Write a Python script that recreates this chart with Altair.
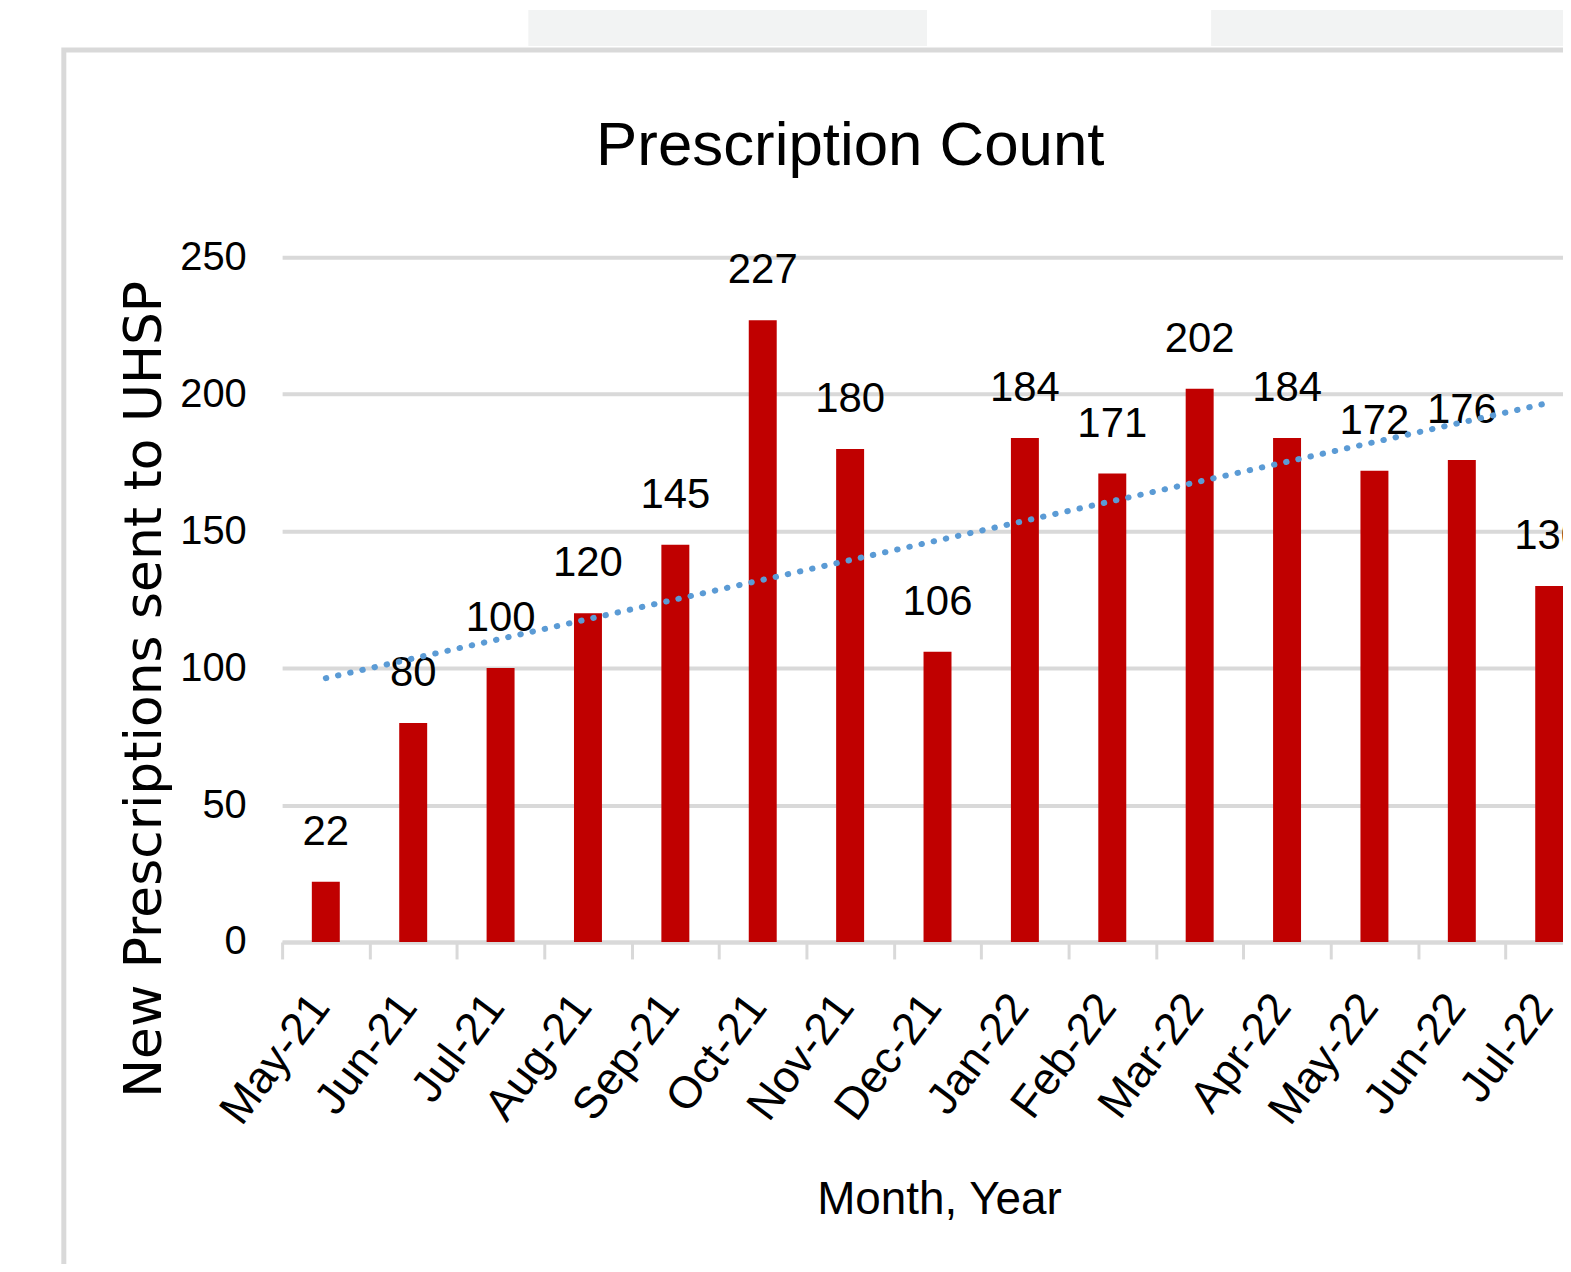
import altair as alt
import pandas as pd

# ---- data ----
months = ["May-21", "Jun-21", "Jul-21", "Aug-21", "Sep-21", "Oct-21", "Nov-21",
          "Dec-21", "Jan-22", "Feb-22", "Mar-22", "Apr-22", "May-22", "Jun-22", "Jul-22"]
counts = [22, 80, 100, 120, 145, 227, 180, 106, 184, 171, 202, 184, 172, 176, 130]
y_ticks = [0, 50, 100, 150, 200, 250]
chart_title = "Prescription Count"

df = pd.DataFrame({"month": months, "count": counts, "idx": list(range(len(months)))})
one = pd.DataFrame({"k": [0]})

# ---- layout ----
W = 1285          # visible plot width (reference is cropped on the right)
RANGE = 1315      # full band range (last band runs past the crop)
H = 687
STEP = RANGE / len(months)
FONT = "Liberation Sans, Arial, sans-serif"
GRID = "#d9d9d9"

x_band = alt.Scale(domain=months, range=[0, RANGE], paddingInner=0.68, paddingOuter=0.34)
y_scale = alt.Scale(domain=[0, 250], nice=False)

x_axis = alt.Axis(
    title="Month, Year", titleFont=FONT, titleFontSize=46, titleFontWeight="normal",
    titleColor="#000", titleX=659, titleY=272, titleBaseline="alphabetic", titleAlign="center",
    labelFont=FONT, labelFontSize=45, labelColor="#000", labelAngle=-53,
    labelAlign="right", labelBaseline="middle", labelPadding=40,
    labelOffset=STEP / 2 - 6, tickOffset=-STEP / 2, labelOverlap=False, labelBound=False,
    labelFlush=False, ticks=True, tickSize=17, tickWidth=3, tickColor=GRID,
    domainColor=GRID, domainWidth=4, grid=False,
)
y_axis = alt.Axis(
    values=y_ticks, title="New Prescriptions sent to UHSP", titleFont="DejaVu Sans",
    titleFontSize=52, titleFontWeight="normal", titleColor="#000", titleX=-122, titleY=433,
    titleBaseline="alphabetic", titleAlign="center", labelFont=FONT, labelFontSize=40,
    labelColor="#000", labelPadding=36, ticks=False, domain=False, grid=True,
    gridColor=GRID, gridWidth=4,
)

blobs = alt.Chart(one).mark_rect(fill="#f2f3f3").encode(
    x=alt.value(247), x2=alt.value(647), y=alt.value(-248), y2=alt.value(-212)
)
blobs2 = alt.Chart(one).mark_rect(fill="#f2f3f3").encode(
    x=alt.value(932), x2=alt.value(1300), y=alt.value(-248), y2=alt.value(-212)
)
frame = alt.Chart(one).mark_rect(fillOpacity=0, stroke="#d9d9d9", strokeWidth=5).encode(
    x=alt.value(-219), x2=alt.value(1500), y=alt.value(-208), y2=alt.value(1200)
)
title = alt.Chart(one).mark_text(
    text=chart_title, font=FONT, fontSize=62, color="#000", align="center",
    baseline="alphabetic"
).encode(x=alt.value(570), y=alt.value(-93))

bars = alt.Chart(df).mark_bar(color="#c00000").encode(
    x=alt.X("month:N", sort=months, scale=x_band, axis=x_axis),
    y=alt.Y("count:Q", scale=y_scale, axis=y_axis),
)

labels = alt.Chart(df).mark_text(
    font=FONT, fontSize=42, color="#000", baseline="alphabetic", dy=-37
).encode(
    x=alt.X("month:N", sort=months, scale=x_band, axis=None),
    y=alt.Y("count:Q", scale=y_scale, axis=y_axis),
    text="count:Q",
)

trend = alt.Chart(df).transform_regression("idx", "count").mark_line(
    color="#5b9bd5", strokeWidth=6, strokeDash=[0.5, 12], strokeCap="round"
).encode(
    x=alt.X("idx:Q", scale=alt.Scale(domain=[-0.5, len(months) - 0.5], range=[0, RANGE],
                                      nice=False, zero=False), axis=None),
    y=alt.Y("count:Q", scale=y_scale, axis=y_axis),
)

chart = alt.layer(blobs, blobs2, frame, title, bars, labels, trend).resolve_scale(
    x="independent"
).properties(
    width=W, height=H,
    autosize=alt.AutoSizeParams(type="none"),
    padding={"left": 275, "top": 248, "right": 0, "bottom": 321},
    background="white",
).configure_view(strokeWidth=0)

chart.save("out.html", embed_options={"renderer": "svg", "actions": False})
